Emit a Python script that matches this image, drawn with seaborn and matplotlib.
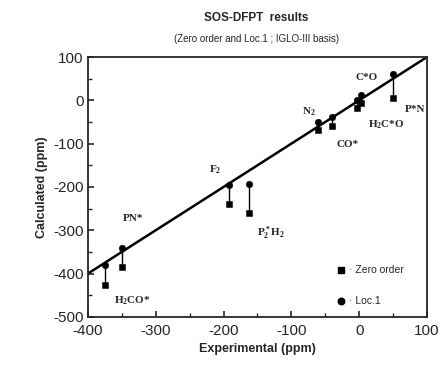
import numpy as np
import pandas as pd
import matplotlib
matplotlib.use("Agg")
import matplotlib.pyplot as plt
import seaborn as sns
from matplotlib.ticker import MultipleLocator

# === DATA ===
molecules = ["H$_2$CO*", "PN*", "F$_2$", "P$_2^*$H$_2$", "N$_2$", "CO*", "H$_2$C*O", "C*O", "P*N"]
experimental = [-375, -350, -192, -163, -60, -40, -3, 2, 50]
zero_order = [-427, -386, -240, -261, -69, -60, -18, -5, 5]
loc1 = [-381, -342, -196, -194, -51, -39, 0, 12, 60]
ideal_x = [-400, 100]

# label positions (data coords)
label_x = [-362, -348, -222, -151, -85, -33, 13, -5, 68]
label_y = [-462, -274, -161, -308, -27, -103, -57, 52, -22]

df = pd.DataFrame({"exp": experimental, "zero": zero_order, "loc1": loc1})

sns.set_style("ticks")
plt.rcParams["axes.unicode_minus"] = False
plt.rcParams["mathtext.fontset"] = "custom"
plt.rcParams["mathtext.rm"] = "Liberation Serif:bold"
plt.rcParams["mathtext.it"] = "Liberation Serif:bold"
plt.rcParams["mathtext.bf"] = "Liberation Serif:bold"

fig = plt.figure(figsize=(4.42, 3.68), dpi=100)
ax = fig.add_axes([0.199, 0.139, 0.767, 0.706])

# === y = x reference line ===
sns.lineplot(x=ideal_x, y=ideal_x, color="black", lw=1.8, ax=ax)

# connectors between the two methods
ax.vlines(df["exp"], df["zero"], df["loc1"], color="black", lw=1.0)

sns.scatterplot(data=df, x="exp", y="zero", marker="s", s=22, color="black",
                edgecolor="black", ax=ax, zorder=3)
sns.scatterplot(data=df, x="exp", y="loc1", marker="o", s=22, color="black",
                edgecolor="black", ax=ax, zorder=3)

for name, lx, ly in zip(molecules, label_x, label_y):
    ax.text(lx, ly, name, fontsize=8, fontweight="bold", family="Liberation Serif",
            ha="left", va="center")

# legend drawn as text entries
ax.scatter([0.745], [0.18], marker="s", s=22, color="black", transform=ax.transAxes)
ax.scatter([0.745], [0.06], marker="o", s=22, color="black", transform=ax.transAxes)
ax.text(0.77, 0.18, "· Zero order", transform=ax.transAxes, fontsize=7.5, va="center",
        family="Liberation Sans")
ax.text(0.77, 0.06, "· Loc.1", transform=ax.transAxes, fontsize=7.5, va="center",
        family="Liberation Sans")

ax.set_xlim(-400, 100)
ax.set_ylim(-500, 100)
ax.xaxis.set_major_locator(MultipleLocator(100))
ax.yaxis.set_major_locator(MultipleLocator(100))
ax.xaxis.set_minor_locator(MultipleLocator(50))
ax.yaxis.set_minor_locator(MultipleLocator(50))
ax.tick_params(which="both", direction="in", top=False, right=False)
ax.tick_params(which="major", length=4, width=1.2, labelsize=11)
ax.tick_params(axis="x", which="major", pad=5)
ax.tick_params(axis="y", which="major", pad=3)
ax.tick_params(which="minor", length=3, width=1)
for lab in ax.get_xticklabels() + ax.get_yticklabels():
    lab.set_family("Liberation Sans")
for sp in ax.spines.values():
    sp.set_linewidth(1.3)

ax.set_xlabel("Experimental (ppm)", fontsize=9, fontweight="bold", family="Liberation Sans")
ax.set_ylabel("Calculated (ppm)", fontsize=9, fontweight="bold", family="Liberation Sans")

fig.text(0.58, 0.95, "SOS-DFPT  results", ha="center", va="center", fontsize=8.5,
         fontweight="bold", family="Liberation Sans")
fig.text(0.58, 0.895, "(Zero order and Loc.1 ; IGLO-III basis)", ha="center", va="center",
         fontsize=7, family="Liberation Sans")

fig.savefig("out.png", dpi=100)
